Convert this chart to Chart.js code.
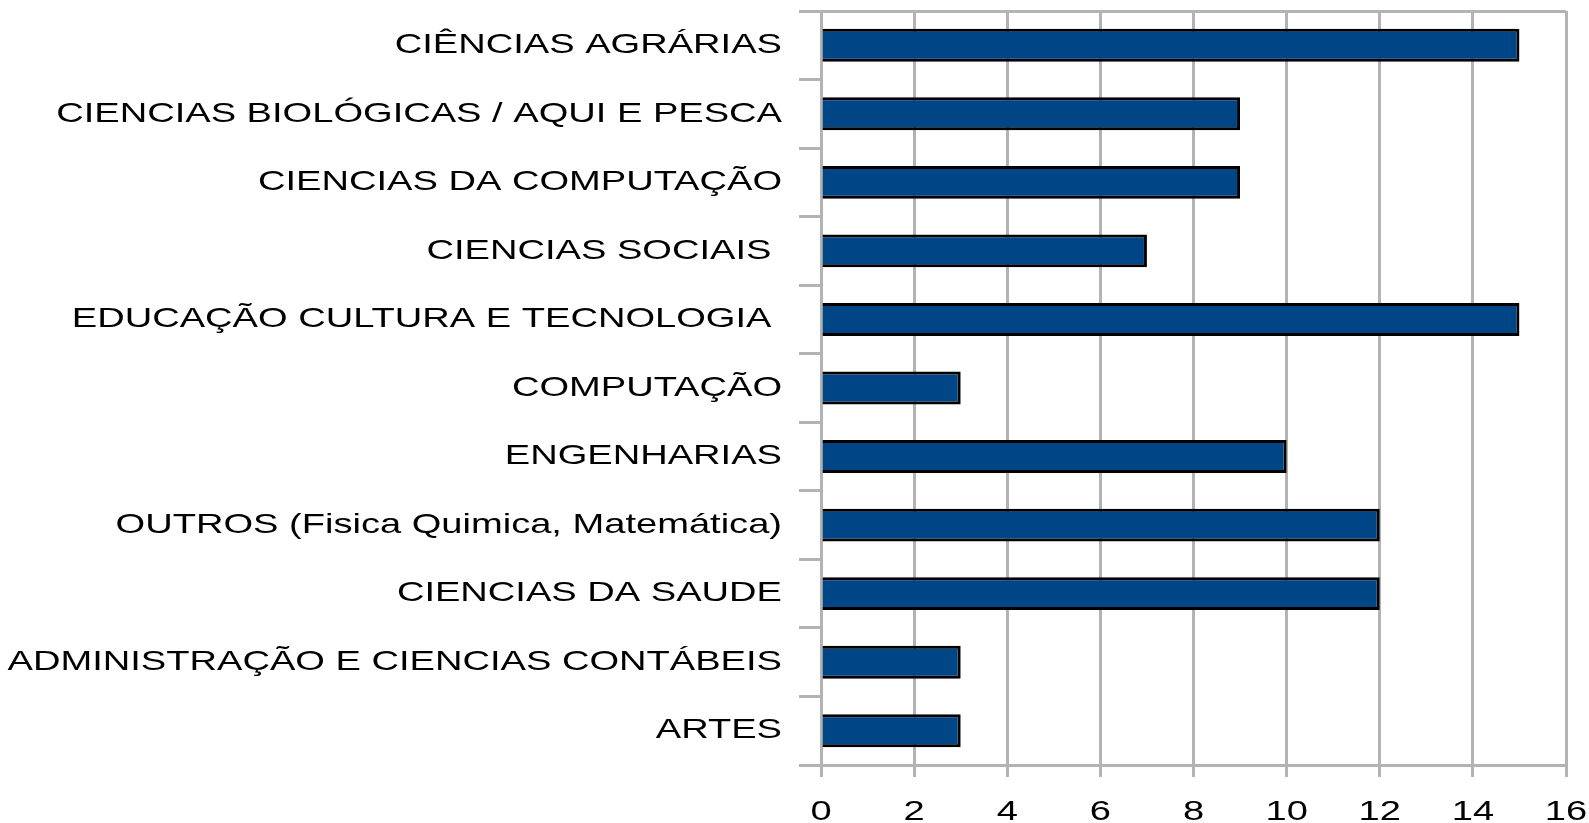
<!DOCTYPE html>
<html><head><meta charset="utf-8">
<script src="https://cdn.jsdelivr.net/npm/chart.js@4"></script>
<style>html,body{margin:0;padding:0;background:#fff}#wrap{width:1589px;height:823px}</style>
</head><body><div id="wrap"><canvas id="c" width="1589" height="823"></canvas></div>
<script>
const categories = ["CIÊNCIAS AGRÁRIAS","CIENCIAS BIOLÓGICAS / AQUI E PESCA","CIENCIAS DA COMPUTAÇÃO","CIENCIAS SOCIAIS ","EDUCAÇÃO CULTURA E TECNOLOGIA ","COMPUTAÇÃO","ENGENHARIAS","OUTROS (Fisica Quimica, Matemática)","CIENCIAS DA SAUDE","ADMINISTRAÇÃO E CIENCIAS CONTÁBEIS","ARTES"];
const values = [15,9,9,7,15,3,10,12,12,3,3];
const xTicks = [0,2,4,6,8,10,12,14,16];

// horizontally stretched text, as in the reference rendering
const SX = 1.36;
const canvas = document.getElementById('c');
const ctx = canvas.getContext('2d');
const origFill = ctx.fillText.bind(ctx);
const origMeasure = ctx.measureText.bind(ctx);
ctx.measureText = t => {
  const m = origMeasure(t);
  return { width: m.width * SX, actualBoundingBoxAscent: m.actualBoundingBoxAscent, actualBoundingBoxDescent: m.actualBoundingBoxDescent, actualBoundingBoxLeft: m.actualBoundingBoxLeft * SX, actualBoundingBoxRight: m.actualBoundingBoxRight * SX };
};
ctx.fillText = (t, x, y) => {
  ctx.save(); ctx.translate(x, y); ctx.scale(SX, 1); origFill(t, 0, 0); ctx.restore();
};

const gridGray = '#b3b3b3';
new Chart(ctx, {
  type: 'bar',
  data: { labels: categories, datasets: [{ data: values, backgroundColor: '#004586', borderColor: '#000', borderWidth: 3, barPercentage: 0.48, categoryPercentage: 1 }] },
  options: {
    indexAxis: 'y', responsive: false, animation: false,
    layout: { padding: { top: 11, right: 0, left: 0, bottom: 0 } },
    plugins: { legend: { display: false }, tooltip: { enabled: false } },
    scales: {
      x: {
        min: 0, max: 16,
        afterBuildTicks: s => { s.ticks = xTicks.map(v => ({ value: v })); },
        grid: { color: gridGray, lineWidth: 3, tickLength: 12, tickColor: gridGray },
        border: { color: gridGray, width: 3 },
        ticks: { color: '#000', font: { family: 'Liberation Sans', size: 28 }, padding: 18, maxRotation: 0 },
        afterFit: s => { s.height = 58; s.paddingRight = 23; s.paddingLeft = 0; }
      },
      y: {
        grid: { offset: true, lineWidth: 3, tickLength: 22, tickColor: gridGray,
          color: c => (c.index === 0 || c.index === categories.length) ? gridGray : 'rgba(0,0,0,0)' },
        border: { color: gridGray, width: 3 },
        ticks: { color: '#000', font: { family: 'Liberation Sans', size: 28 }, padding: 17 },
        afterFit: s => { s.width = 821; s.paddingTop = 0; s.paddingBottom = 0; }
      }
    }
  }
});
</script></body></html>
